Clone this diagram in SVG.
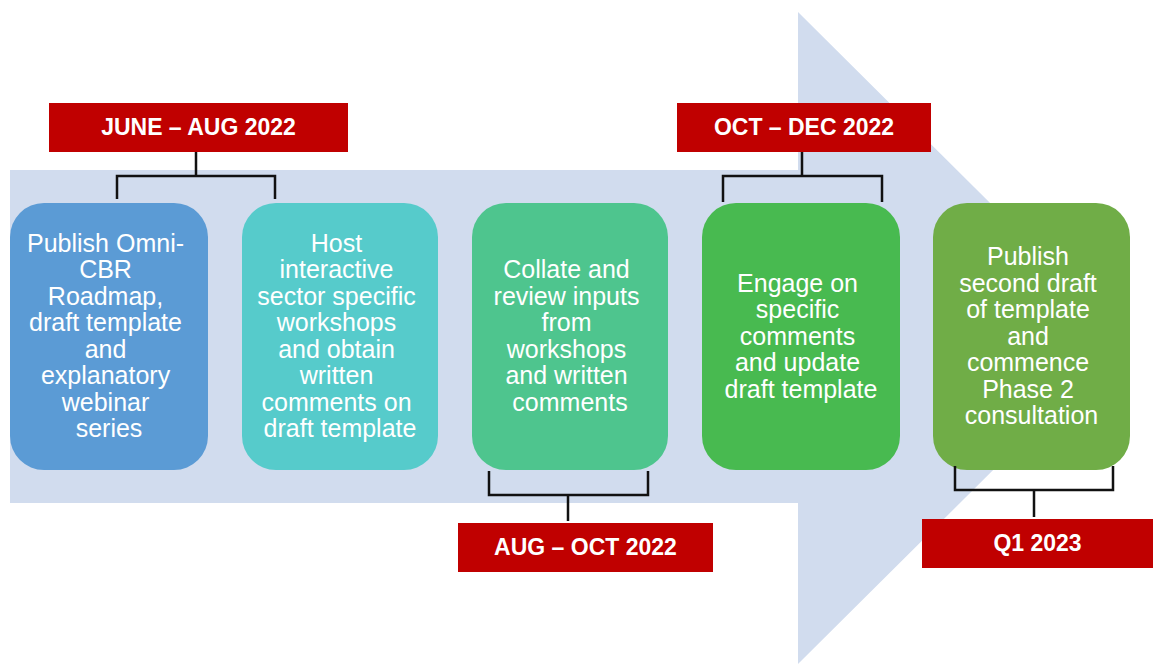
<svg xmlns="http://www.w3.org/2000/svg" width="1156" height="664" viewBox="0 0 1156 664">
  <style>
    .step { fill: #ffffff; font-family: "Liberation Sans", Arial, sans-serif; font-size: 25px; text-anchor: middle; }
    .tag rect { fill: #C00000; }
    .tag text { fill: #ffffff; font-family: "Liberation Sans", Arial, sans-serif; font-size: 23px; font-weight: bold; text-anchor: middle; }
    .bracket { fill: none; stroke: #111111; stroke-width: 2.5; }
  </style>

  <rect width="1156" height="664" fill="#ffffff"/>

  <!-- timeline arrow -->
  <path id="timeline-arrow" d="M10 170 H798 V12 L1126 338 L798 664 V503 H10 Z" fill="#D1DCEE"/>

  <!-- steps -->
  <g id="step-1">
    <rect x="10" y="203" width="198" height="267" rx="34" fill="#5B9BD5"/>
    <text class="step">
      <tspan x="109" y="251.5">Publish Omni-</tspan>
      <tspan x="109" dy="26.5">CBR</tspan>
      <tspan x="109" dy="26.5">Roadmap,</tspan>
      <tspan x="109" dy="26.5">draft template</tspan>
      <tspan x="109" dy="26.5">and</tspan>
      <tspan x="109" dy="26.5">explanatory</tspan>
      <tspan x="109" dy="26.5">webinar</tspan>
      <tspan x="109" dy="26.5">series</tspan>
    </text>
  </g>
  <g id="step-2">
    <rect x="242" y="203" width="196" height="267" rx="34" fill="#56CBCB"/>
    <text class="step">
      <tspan x="340" y="251.5">Host</tspan>
      <tspan x="340" dy="26.5">interactive</tspan>
      <tspan x="340" dy="26.5">sector specific</tspan>
      <tspan x="340" dy="26.5">workshops</tspan>
      <tspan x="340" dy="26.5">and obtain</tspan>
      <tspan x="340" dy="26.5">written</tspan>
      <tspan x="340" dy="26.5">comments on</tspan>
      <tspan x="340" dy="26.5">draft template</tspan>
    </text>
  </g>
  <g id="step-3">
    <rect x="472" y="203" width="196" height="267" rx="34" fill="#4EC58E"/>
    <text class="step">
      <tspan x="570" y="278">Collate and</tspan>
      <tspan x="570" dy="26.5">review inputs</tspan>
      <tspan x="570" dy="26.5">from</tspan>
      <tspan x="570" dy="26.5">workshops</tspan>
      <tspan x="570" dy="26.5">and written</tspan>
      <tspan x="570" dy="26.5">comments</tspan>
    </text>
  </g>
  <g id="step-4">
    <rect x="702" y="203" width="198" height="267" rx="34" fill="#48BA50"/>
    <text class="step">
      <tspan x="801" y="291.5">Engage on</tspan>
      <tspan x="801" dy="26.5">specific</tspan>
      <tspan x="801" dy="26.5">comments</tspan>
      <tspan x="801" dy="26.5">and update</tspan>
      <tspan x="801" dy="26.5">draft template</tspan>
    </text>
  </g>
  <g id="step-5">
    <rect x="933" y="203" width="197" height="267" rx="34" fill="#70AD47"/>
    <text class="step">
      <tspan x="1031.5" y="265">Publish</tspan>
      <tspan x="1031.5" dy="26.5">second draft</tspan>
      <tspan x="1031.5" dy="26.5">of template</tspan>
      <tspan x="1031.5" dy="26.5">and</tspan>
      <tspan x="1031.5" dy="26.5">commence</tspan>
      <tspan x="1031.5" dy="26.5">Phase 2</tspan>
      <tspan x="1031.5" dy="26.5">consultation</tspan>
    </text>
  </g>

  <!-- period labels -->
  <g id="period-jun-aug" class="tag">
    <rect x="49" y="103" width="299" height="49"/>
    <text x="198.5" y="135">JUNE – AUG 2022</text>
  </g>
  <g id="period-oct-dec" class="tag">
    <rect x="677" y="103" width="254" height="49"/>
    <text x="804" y="135">OCT – DEC 2022</text>
  </g>
  <g id="period-aug-oct" class="tag">
    <rect x="458" y="523" width="255" height="49"/>
    <text x="585.5" y="555">AUG – OCT 2022</text>
  </g>
  <g id="period-q1" class="tag">
    <rect x="922" y="519" width="231" height="49"/>
    <text x="1037.5" y="551">Q1 2023</text>
  </g>

  <!-- brackets linking periods to steps -->
  <g id="connectors" class="bracket">
    <path d="M196 152 V176 M117 199 V176 H275 V199"/>
    <path d="M802 152 V176 M723 202 V176 H882 V202"/>
    <path d="M489 471 V495 H648 V471 M568 495 V521"/>
    <path d="M955 466 V490 H1113 V466 M1034 490 V517"/>
  </g>
</svg>
